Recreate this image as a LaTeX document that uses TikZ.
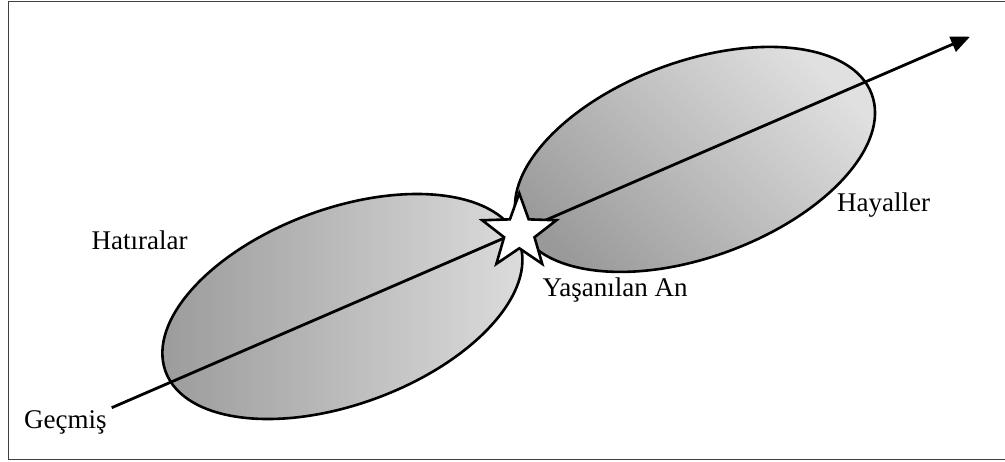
\documentclass[tikz,border=0pt]{standalone}
\usepackage{fontspec}
\setmainfont{Liberation Serif}
\usetikzlibrary{shapes.geometric,arrows.meta}
\begin{document}
\begin{tikzpicture}[x=1pt,y=-1pt,
  lbl/.style={anchor=base west,inner sep=0pt,font=\fontsize{27}{32}\selectfont},
  lobe/.style={draw=black,line width=2.6pt},
  timeline/.style={line width=2.8pt,-{Triangle[length=19pt,width=16pt]}},
  starmark/.style={star,star points=5,star point ratio=2.44,minimum size=78pt,
    inner sep=0pt,draw=black,fill=white,line width=2.6pt},
  frameline/.style={line width=1.4pt,draw=black!75}]
\useasboundingbox (0,0) rectangle (1005,461);
% open frame (right side runs off the page)
\draw[frameline] (1005,1.5) -- (8.5,1.5) -- (8.5,459.5) -- (1005,459.5);
% the two lobes: memories and dreams
\coordinate (pastc) at (342.4,306.5);
\coordinate (futc) at (695,159.4);
\path[lobe,left color=black!40,right color=black!13]
  [shift={(pastc)},rotate=20.2] (0,0) ellipse [x radius=188.4,y radius=97.8];
\path[lobe,top color=black!12,bottom color=black!40,shading angle=-45]
  [shift={(futc)},rotate=20.2] (0,0) ellipse [x radius=188.4,y radius=97.8];
% time axis
\coordinate (start) at (111.7,407.7);
\coordinate (tip) at (970,36.7);
\draw[timeline] (start) -- (tip);
% the present moment
\node[starmark] (now) at (519.3,232.3) {};
% labels
\node[lbl] (past) at (24,428.3) {Geçmiş};
\node[lbl] (mem) at (91.5,249.3) {Hatıralar};
\node[lbl] (dreams) at (837,211) {Hayaller};
\node[lbl] (moment) at (542.5,296.7) {Yaşanılan An};
\end{tikzpicture}
\end{document}
